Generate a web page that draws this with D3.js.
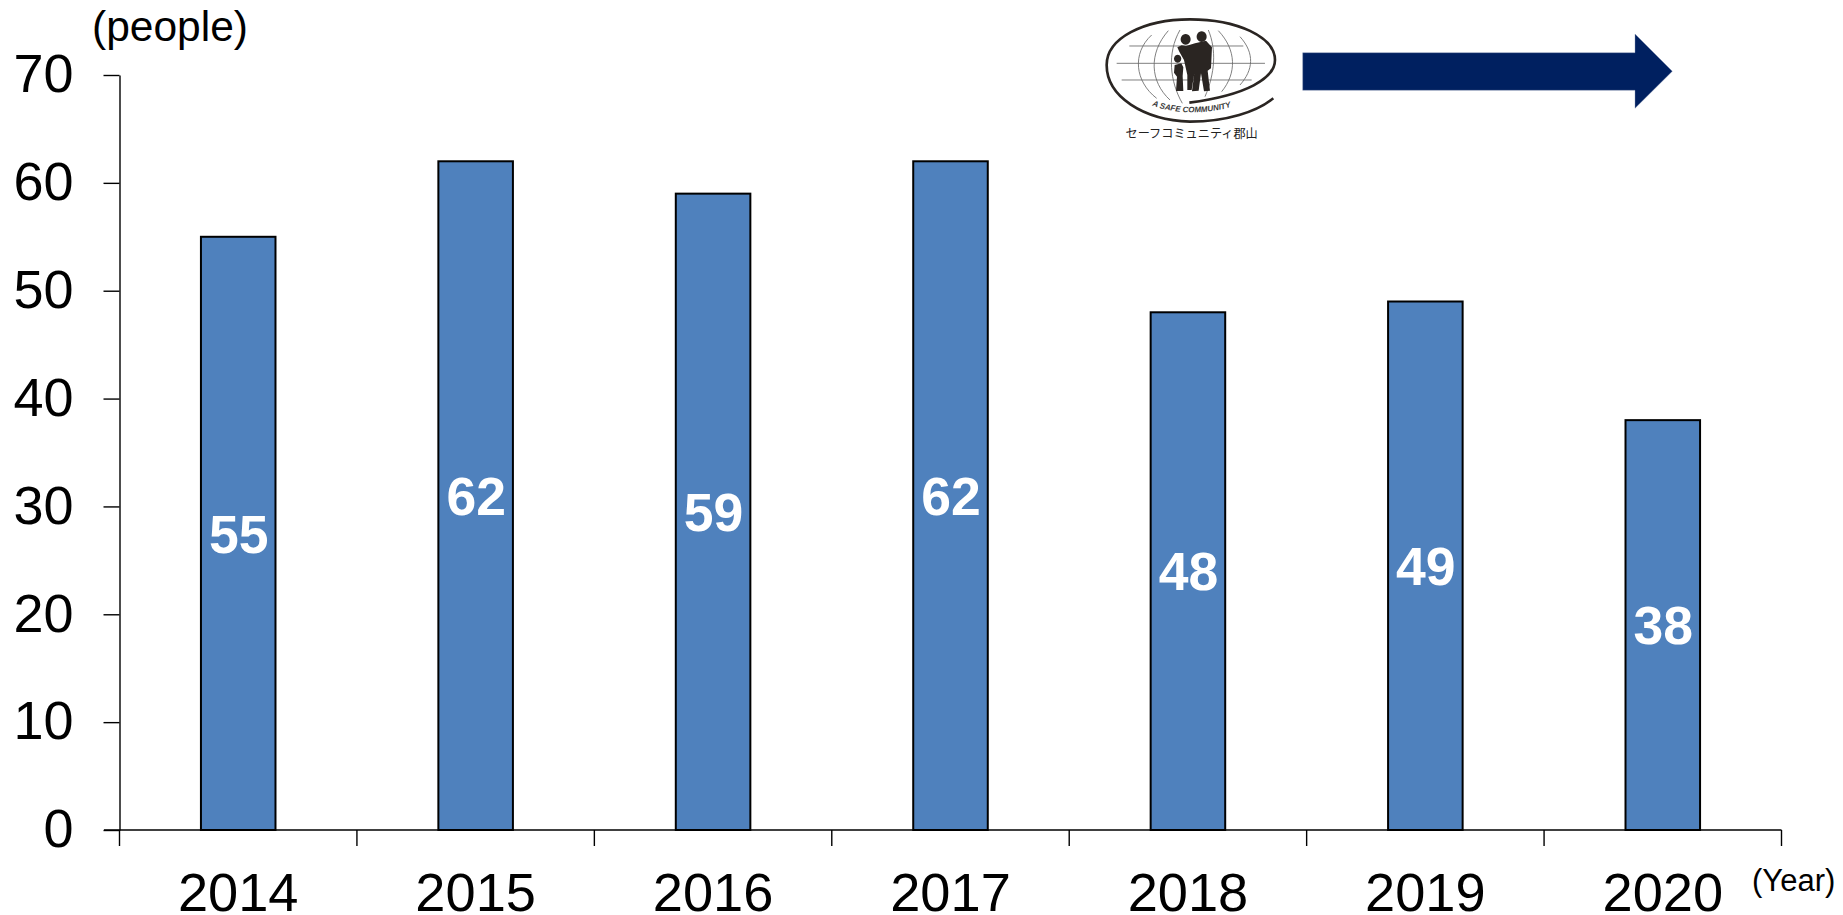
<!DOCTYPE html>
<html><head><meta charset="utf-8">
<script src="https://cdn.jsdelivr.net/npm/d3@7/dist/d3.min.js"></script>
<style>html,body{margin:0;padding:0;background:#fff;overflow:hidden}svg{display:block}text{font-family:"Liberation Sans",Arial,sans-serif}</style>
</head><body><svg id="c" width="1843" height="915"></svg>
<script>
const years = ["2014","2015","2016","2017","2018","2019","2020"];
const values = [55,62,59,62,48,49,38];
const yTicks = [0,10,20,30,40,50,60,70];
const yUnit = "(people)", xUnit = "(Year)";
const logoTagline = "A SAFE COMMUNITY", logoName = "セーフコミュニティ郡山";

const svg = d3.select("#c");
const x = d3.scaleBand().domain(years).range([119.5,1781.5]).paddingInner(0.686).paddingOuter(0.343);
const y = d3.scaleLinear().domain([0,70]).range([830,75]);
const step = x.step();

// bars
svg.append("g").selectAll("rect").data(values).join("rect")
  .attr("x",(d,i)=>x(years[i])).attr("y",d=>y(d))
  .attr("width",x.bandwidth()).attr("height",d=>y(0)-y(d))
  .attr("fill","#4F81BD").attr("stroke","#000").attr("stroke-width",2);

// y axis
const gy = svg.append("g").attr("transform","translate(119.5,0)")
  .call(d3.axisLeft(y).tickValues(yTicks).tickSize(16).tickPadding(30).tickSizeOuter(0));
gy.selectAll("path,line").attr("stroke","#000").attr("stroke-width",1.4);
gy.selectAll("text").attr("font-size",54).attr("fill","#000").attr("dy","0.31em")
  .style("font-family",'"Liberation Sans",Arial,sans-serif');

// x axis: ticks sit on the category boundaries
const gx = svg.append("g").attr("transform","translate(0,830)");
gx.append("line").attr("x1",104).attr("x2",x.range()[1]).attr("stroke","#000").attr("stroke-width",1.4);
gx.selectAll("line.t").data(d3.range(years.length+1)).join("line").attr("class","t")
  .attr("x1",i=>x.range()[0]+i*step).attr("x2",i=>x.range()[0]+i*step)
  .attr("y1",0).attr("y2",16).attr("stroke","#000").attr("stroke-width",1.4);
gx.selectAll("text").data(years).join("text")
  .attr("x",d=>x(d)+x.bandwidth()/2).attr("y",81).attr("text-anchor","middle")
  .attr("font-size",54.2).attr("fill","#000").text(d=>d);

// value labels
svg.append("g").selectAll("text").data(values).join("text")
  .attr("x",(d,i)=>x(years[i])+x.bandwidth()/2+0.5).attr("y",d=>(y(d)+y(0))/2)
  .attr("dy","0.36em").attr("text-anchor","middle").attr("font-size",53.5).attr("font-weight","bold")
  .attr("fill","#fff").text(d=>d);

// unit labels
svg.append("text").attr("x",92).attr("y",41).attr("font-size",42.5).attr("fill","#000").text(yUnit);
svg.append("text").attr("x",1752).attr("y",891).attr("font-size",31).attr("fill","#000").text(xUnit);

// arrow
svg.append("path").attr("fill","#002060").attr("stroke","#8a97b5").attr("stroke-width",0.4)
  .attr("d","M1302.7,52.7H1635V34L1672.3,71.3L1635,108.3V90.3H1302.7Z");

// logo, drawn in a 3x local space
const logo = svg.append("g").attr("transform","translate(1100,10) scale(0.3333)")
  .attr("fill","none").attr("stroke","#2a2522");
const logoStroke = ["M520,265C470,305 380,335 270,335C130,330 20,260 20,165C20,85 130,28 270,28C410,28 525,80 525,150C525,205 440,255 268,278"];
logo.selectAll("path.o").data(logoStroke).join("path").attr("class","o").attr("stroke-width",8).attr("d",d=>d);
const gridLines = ["M88,108H430","M50,160H495","M65,210H455",
 "M155,75C95,130 105,215 170,265","M205,62C145,130 150,215 210,270","M240,60C200,130 210,215 247,280",
 "M325,60C350,120 345,190 315,260","M355,62C410,120 410,190 365,245","M420,80C465,130 460,180 420,225"];
logo.selectAll("path.g").data(gridLines).join("path").attr("class","g").attr("stroke","#666").attr("stroke-width",2.5).attr("d",d=>d);
const figures = [
 "M305,64a15,16 0 1 1 -.1,0Z",
 "M257,72a15,16 0 1 1 -.1,0Z",
 "M233,134a11,12 0 1 1 -.1,0Z",
 "M285,100L318,92L336,112L333,175L323,182L330,242L312,244L303,190L296,242L276,244L283,190L275,240L262,240L262,195L252,150L238,125L232,112L245,106L258,108Z",
 "M224,165L244,160L250,172L248,198L250,243L228,243L231,200L222,188Z"
];
logo.selectAll("path.f").data(figures).join("path").attr("class","f").attr("fill","#2a2522").attr("stroke","none").attr("d",d=>d);
logo.append("defs").append("path").attr("id","arc").attr("d","M140,280C210,312 320,318 410,285");
logo.append("text").attr("font-size",24).attr("font-weight","bold").attr("font-style","italic").attr("fill","#3a3a3a").attr("stroke","none")
  .append("textPath").attr("href","#arc").attr("startOffset","50%").attr("text-anchor","middle").text(logoTagline);
logo.append("text").attr("x",275).attr("y",383).attr("text-anchor","middle").attr("font-size",36.5).attr("stroke","none")
  .style("font-family",'"Noto Sans CJK JP",sans-serif').attr("fill","#222").text(logoName);
</script></body></html>
